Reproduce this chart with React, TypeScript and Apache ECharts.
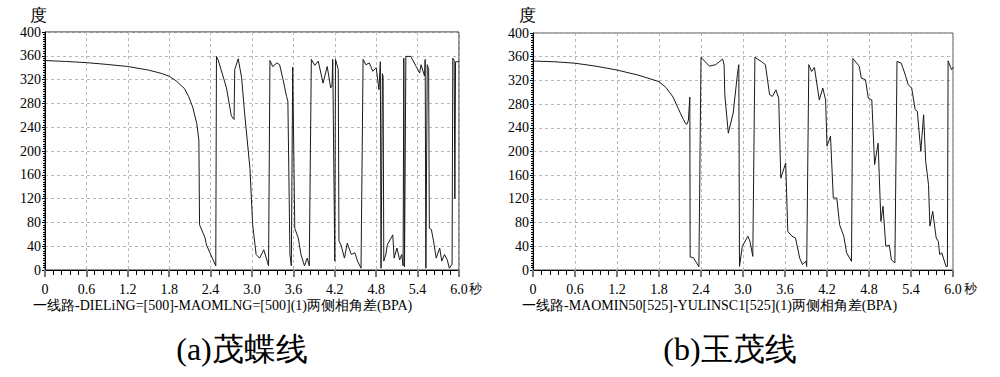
import React, { useEffect, useRef } from "react";
import * as echarts from "echarts";

const xTicks = [0, 0.6, 1.2, 1.8, 2.4, 3.0, 3.6, 4.2, 4.8, 5.4, 6.0];
const yTicks = [0, 40, 80, 120, 160, 200, 240, 280, 320, 360, 400];

const leftTimes = [
  0, 0.3, 0.6, 0.9, 1.2, 1.5, 1.7, 1.8, 1.9, 2.02, 2.08, 2.14, 2.2, 2.23, 2.24, 2.32, 2.34, 2.475, 2.485, 2.51, 2.63, 2.7,
  2.74, 2.75, 2.8, 2.85, 2.89, 2.97, 3.01, 3.06, 3.11, 3.17, 3.22, 3.24, 3.26, 3.3, 3.36, 3.4, 3.45, 3.5, 3.52, 3.55,
  3.57, 3.59, 3.62, 3.67, 3.71, 3.76, 3.8, 3.83, 3.86, 3.91, 3.96, 4.03, 4.09, 4.14, 4.16, 4.17, 4.2, 4.21, 4.25, 4.26,
  4.29, 4.34, 4.38, 4.44, 4.49, 4.53, 4.58, 4.61, 4.65, 4.7, 4.75, 4.8, 4.84, 4.86, 4.87, 4.89, 4.9, 4.91, 4.94, 4.96,
  5.04, 5.06, 5.1, 5.14, 5.17, 5.19, 5.2, 5.21, 5.23, 5.3, 5.38, 5.43, 5.45, 5.5, 5.51, 5.52, 5.54, 5.56, 5.57, 5.6,
  5.63, 5.67, 5.72, 5.75, 5.79, 5.83, 5.86, 5.9, 5.91, 5.93, 5.94, 5.95, 6.0,
];
const leftDegrees = [
  352, 350.5, 348.5, 345.5, 342, 336, 330, 325.5, 318, 305, 292, 274, 246, 218, 76, 54, 42, 7, 359, 353, 306, 259,
  253, 337, 355, 323, 267, 171, 76, 26, 20, 34, 15, 7, 352, 342, 348, 345, 320, 292, 284, 26,
  7, 341, 70, 54, 26, 7, 20, 7, 354, 344, 351, 314, 342, 306, 311, 354, 15, 354, 337, 49,
  42, 20, 45, 26, 29, 15, 3, 354, 345, 348, 334, 340, 303, 350, 3, 330, 325, 15, 26, 42,
  59, 20, 37, 17, 26, 7, 356, 5, 359, 359, 342, 331, 345, 326, 354, 3, 345, 337, 70, 68,
  49, 20, 37, 15, 26, 17, 3, 10, 356, 352, 120, 350, 350,
];

const rightTimes = [
  0, 0.3, 0.6, 0.9, 1.2, 1.5, 1.8, 1.9, 2.0, 2.1, 2.15, 2.18, 2.2, 2.22, 2.24, 2.245, 2.29, 2.37, 2.4, 2.52, 2.61, 2.71, 2.73, 2.74, 2.79,
  2.86, 2.92, 2.94, 2.95, 2.99, 3.07, 3.1, 3.14, 3.17, 3.26, 3.32, 3.38, 3.42, 3.47, 3.51, 3.54, 3.61, 3.64, 3.7, 3.75,
  3.81, 3.85, 3.9, 3.91, 3.94, 3.98, 4.02, 4.09, 4.14, 4.18, 4.2, 4.25, 4.29, 4.34, 4.38, 4.44, 4.48, 4.55, 4.57, 4.66,
  4.69, 4.75, 4.79, 4.84, 4.88, 4.93, 4.97, 5.0, 5.04, 5.09, 5.12, 5.17, 5.2, 5.26, 5.31, 5.36, 5.41, 5.46, 5.49, 5.54,
  5.58, 5.61, 5.65, 5.67, 5.71, 5.76, 5.79, 5.81, 5.84, 5.9, 5.92, 5.93, 5.98, 6.0,
];
const rightDegrees = [
  352.7, 351.5, 349, 344, 337.5, 329, 318, 308, 292, 266, 254, 247, 246, 253, 292, 22, 21, 5.6, 359, 344, 346.6, 356, 346.5, 296, 231,
  265, 330, 346.5, 6, 40, 57, 48, 23, 359, 352, 346.5, 296, 293, 304, 290, 155, 180.6, 65, 57, 54,
  20, 9, 15, 6, 346.6, 335, 342, 287, 307, 287, 209, 226, 121.5, 121.5, 76.5, 57, 29, 14.6, 357, 344,
  324, 321, 290, 287, 178, 214, 82, 107.5, 40, 42, 17, 12, 352, 349, 332.5, 313, 307, 270.6, 268, 200,
  262, 183.5, 144, 74, 99, 54, 48.5, 26, 29, 6, 6, 353, 338, 342,
];

const yTitle = "度";
const xUnit = "秒";
const leftLegend = "一线路-DIELiNG=[500]-MAOMLNG=[500](1)两侧相角差(BPA)";
const rightLegend = "一线路-MAOMIN50[525]-YULINSC1[525](1)两侧相角差(BPA)";
const leftCaption = "(a)茂蝶线";
const rightCaption = "(b)玉茂线";

const FONT = "Liberation Serif";

function xAxisCfg(gridIndex: number) {
  return {
    type: "value" as const,
    gridIndex,
    min: 0,
    max: 6,
    interval: 0.6,
    axisLine: { show: true, onZero: false, lineStyle: { color: "#000", width: 1 } },
    axisTick: { show: true, length: 7, lineStyle: { color: "#777", width: 2 } },
    minorTick: { show: true, splitNumber: 5, length: 5, lineStyle: { color: "#000", width: 1 } },
    axisLabel: { show: false },
    splitLine: { show: true, lineStyle: { color: "#b8b8b8", type: [3, 3], width: 1 } },
  };
}

function yAxisCfg(gridIndex: number) {
  return {
    type: "value" as const,
    gridIndex,
    min: 0,
    max: 400,
    interval: 40,
    axisLine: { show: true, onZero: false, lineStyle: { color: "#000", width: 1 } },
    axisTick: { show: true, length: 3, lineStyle: { color: "#000", width: 1 } },
    minorTick: { show: true, splitNumber: 10, length: 2, lineStyle: { color: "#000", width: 1 } },
    axisLabel: { show: false },
    splitLine: { show: true, lineStyle: { color: "#b8b8b8", type: [3, 3], width: 1 } },
  };
}

export default function App() {
  const ref = useRef<HTMLDivElement>(null);
  useEffect(() => {
    if (!ref.current) return;
    const chart = echarts.init(ref.current, undefined, { renderer: "svg" });
    const leftData = leftTimes.map((t, i) => [t, leftDegrees[i]]);
    const rightData = rightTimes.map((t, i) => [t, rightDegrees[i]]);
    const txt = (text: string, size: number) => ({ text, fontSize: size, fontFamily: FONT, fill: "#000" });
    chart.setOption({
      animation: false,
      backgroundColor: "#fff",
      grid: [
        { left: 45, top: 32, width: 414, height: 238, show: true, borderColor: "#222", borderWidth: 1, backgroundColor: "transparent" },
        { left: 533, top: 33, width: 420, height: 237, show: true, borderColor: "#555", borderWidth: 1, backgroundColor: "transparent" },
      ],
      xAxis: [xAxisCfg(0), xAxisCfg(1)],
      yAxis: [yAxisCfg(0), yAxisCfg(1)],
      series: [
        { type: "line", xAxisIndex: 0, yAxisIndex: 0, data: leftData, showSymbol: false, lineStyle: { color: "#1a1a1a", width: 1 } },
        { type: "line", xAxisIndex: 1, yAxisIndex: 1, data: rightData, showSymbol: false, lineStyle: { color: "#1a1a1a", width: 1 } },
      ],
    });

    const tickTexts: any[] = [];
    [0, 1].forEach((g) => {
      xTicks.forEach((v) => {
        const p = chart.convertToPixel({ gridIndex: g }, [v, 0]) as number[];
        tickTexts.push({
          type: "text",
          x: p[0],
          y: p[1] + 12,
          style: { ...txt(v === 0 ? "0" : v.toFixed(1), 14), align: "center", verticalAlign: "top" },
        });
      });
      yTicks.forEach((v) => {
        const p = chart.convertToPixel({ gridIndex: g }, [0, v]) as number[];
        tickTexts.push({
          type: "text",
          x: p[0] - 4,
          y: p[1],
          style: { ...txt(String(v), 14), align: "right", verticalAlign: "middle" },
        });
      });
    });

    chart.setOption({
      graphic: [
        ...tickTexts,
        { type: "text", left: 30, top: 7, style: txt(yTitle, 17) },
        { type: "text", left: 519, top: 7, style: txt(yTitle, 17) },
        { type: "text", left: 469, top: 282, style: txt(xUnit, 13) },
        { type: "text", left: 964, top: 282, style: txt(xUnit, 13) },
        { type: "text", left: 33, top: 298, style: txt(leftLegend, 14) },
        { type: "text", left: 522, top: 298, style: txt(rightLegend, 14) },
        { type: "text", x: 242, y: 349, style: { ...txt(leftCaption, 32), align: "center", verticalAlign: "middle" } },
        { type: "text", x: 730, y: 349, style: { ...txt(rightCaption, 32), align: "center", verticalAlign: "middle" } },
      ],
    });
    return () => chart.dispose();
  }, []);
  return <div ref={ref} style={{ position: "fixed", left: 0, top: 0, width: 1000, height: 377, background: "#fff" }} />;
}
